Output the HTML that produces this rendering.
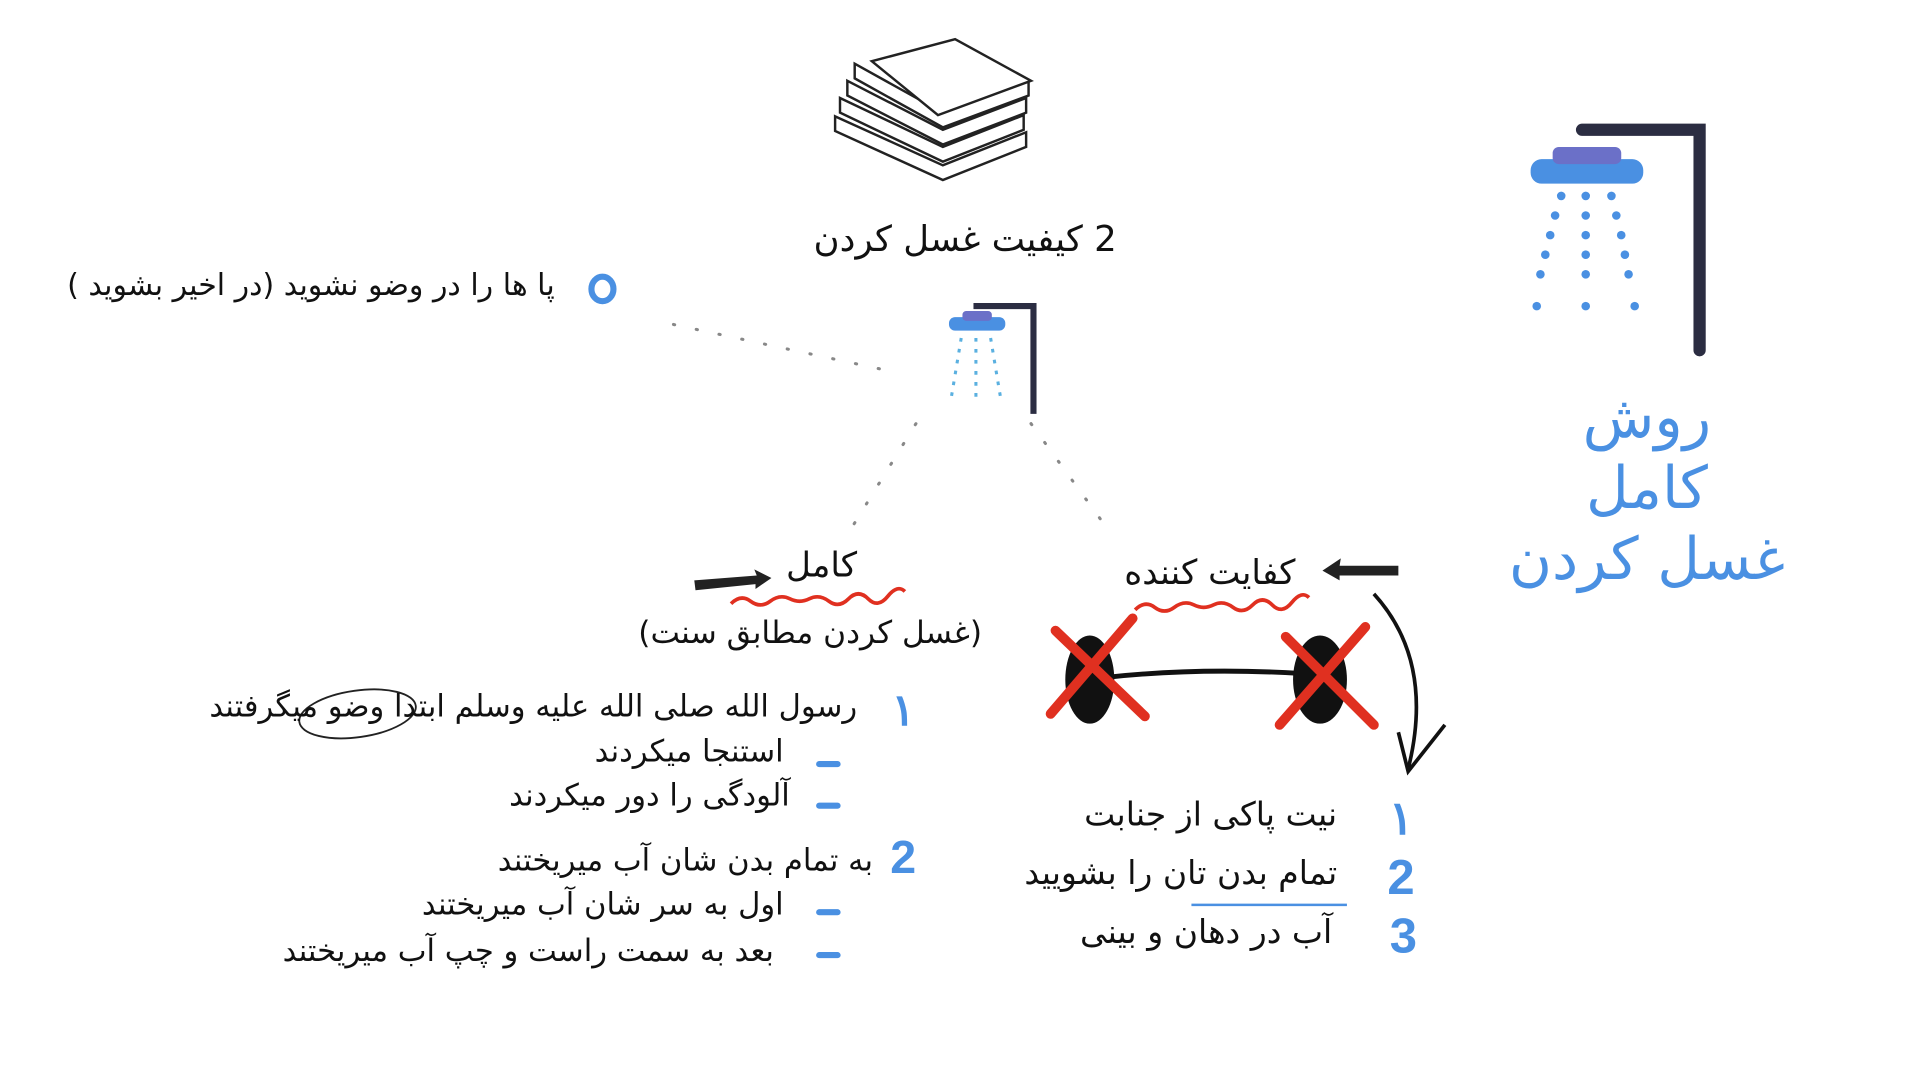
<!DOCTYPE html>
<html><head><meta charset="utf-8">
<style>
html,body{margin:0;padding:0;background:#fff;width:1920px;height:1080px;overflow:hidden}
#w{position:absolute;left:0;top:0;width:1568px;height:882px;transform:scale(1.22449);transform-origin:0 0}
.t{position:absolute;direction:rtl;white-space:nowrap;font-family:"DejaVu Sans","Liberation Sans",sans-serif;color:#111;line-height:1}
.b{position:absolute;font-family:"Liberation Sans",sans-serif;color:#4a90e2;font-weight:bold;line-height:1}
svg{position:absolute;left:0;top:0}
</style></head><body><div id="w">
<svg width="1568" height="882" viewBox="0 0 1568 882">
 <g fill="#fff" stroke="#222" stroke-width="2">
  <path d="M682 95 L770 135 L838 108 L838 120 L770 147 L682 107 Z"/>
  <path d="M686 80 L770 120 L836 94 L836 106 L770 132 L686 92 Z"/>
  <path d="M692 66 L770 106 L838 80 L838 92 L770 118 L692 78 Z"/>
  <path d="M698 52 L770 92 L840 66 L840 78 L770 104 L698 64 Z"/>
  <path d="M712 50 L780 32 L842 66 L766 94 Z"/>
 </g>
 <g stroke="#888" stroke-width="2.5" stroke-dasharray="1 18" stroke-linecap="round" fill="none">
  <path d="M550 265 L722 302"/>
  <path d="M748 346 L690 440"/>
  <path d="M842 346 L906 434"/>
 </g>
 <path d="M795 250 H844 V338" stroke="#2b2d42" stroke-width="5" fill="none"/>
 <rect x="775" y="259" width="46" height="11" rx="5" fill="#4a90e2"/>
 <rect x="786" y="254" width="24" height="8" rx="3" fill="#6b70c8"/>
 <g stroke="#5ab0e0" stroke-width="2.5" stroke-dasharray="3 6" fill="none">
  <path d="M785 276 L777 324"/><path d="M797 276 L797 324"/><path d="M809 276 L817 324"/>
 </g>
 <path d="M1292 106 H1388 V286" stroke="#2b2d42" stroke-width="10" fill="none" stroke-linecap="round"/>
 <rect x="1250" y="130" width="92" height="20" rx="9" fill="#4a90e2"/>
 <rect x="1268" y="120" width="56" height="14" rx="5" fill="#6b70c8"/>
 <g fill="#4a90e2">
  <circle cx="1275" cy="160" r="3.5"/><circle cx="1295" cy="160" r="3.5"/><circle cx="1316" cy="160" r="3.5"/>
  <circle cx="1270" cy="176" r="3.5"/><circle cx="1295" cy="176" r="3.5"/><circle cx="1320" cy="176" r="3.5"/>
  <circle cx="1266" cy="192" r="3.5"/><circle cx="1295" cy="192" r="3.5"/><circle cx="1324" cy="192" r="3.5"/>
  <circle cx="1262" cy="208" r="3.5"/><circle cx="1295" cy="208" r="3.5"/><circle cx="1327" cy="208" r="3.5"/>
  <circle cx="1258" cy="224" r="3.5"/><circle cx="1295" cy="224" r="3.5"/><circle cx="1330" cy="224" r="3.5"/>
  <circle cx="1255" cy="250" r="3.5"/><circle cx="1295" cy="250" r="3.5"/><circle cx="1335" cy="250" r="3.5"/>
 </g>
 <path d="M567 474 L618 470 L616 465 L630 472 L617 481 L617 477 L568 482 Z" fill="#222"/>
 <path d="M1142 462 L1094 462 L1095 456 L1080 466 L1094 474 L1094 470 L1142 470 Z" fill="#222"/>
 <path d="M597 493 q8 -8 16 -2 t16 0 t16 -2 t16 0 t16 2 t16 -2 t16 0 t16 -2 t14 -4" stroke="#e03020" stroke-width="3" fill="none"/>
 <path d="M927 498 q8 -8 16 -2 t16 0 t16 -2 t16 0 t16 2 t16 -2 t16 0 t16 -2 t14 -4" stroke="#e03020" stroke-width="3" fill="none"/>
 <path d="M905 553 Q980 545 1062 550" stroke="#111" stroke-width="4" fill="none"/>
 <ellipse cx="890" cy="555" rx="20" ry="36" fill="#111"/>
 <ellipse cx="1078" cy="555" rx="22" ry="36" fill="#111"/>
 <g stroke="#e03020" stroke-width="8" stroke-linecap="round">
  <path d="M862 515 L935 585"/><path d="M925 505 L858 583"/>
  <path d="M1050 520 L1122 592"/><path d="M1115 512 L1045 592"/>
 </g>
 <path d="M1122 485 Q1172 540 1150 628" stroke="#111" stroke-width="3" fill="none"/>
 <path d="M1142 598 L1150 630 L1180 592" stroke="#111" stroke-width="3" fill="none"/>
 <ellipse cx="292" cy="583" rx="48" ry="19" stroke="#222" stroke-width="1.5" fill="none" transform="rotate(-8 292 583)"/>
 <path d="M973 739 H1100" stroke="#4a90e2" stroke-width="2"/>
 <g stroke="#4a90e2" stroke-width="5" stroke-linecap="round">
  <path d="M669 624 H684"/><path d="M669 658 H684"/><path d="M669 745 H684"/><path d="M669 780 H684"/>
 </g>
 <ellipse cx="492" cy="236" rx="9" ry="10" stroke="#4a90e2" stroke-width="5" fill="none"/>
</svg>

<div class="t" style="right:656px;top:181px;font-size:29px">2 کیفیت غسل کردن</div>
<div class="t" style="right:1115px;top:221px;font-size:24.5px">پا ها را در وضو نشوید (در اخیر بشوید )</div>

<div class="t" style="left:1230px;width:230px;text-align:center;direction:rtl;top:312px;font-size:48px;color:#4a90e2;line-height:58px">روش<br>کامل<br>غسل کردن</div>

<div class="t" style="right:868px;top:448px;font-size:28px">کامل</div>
<div class="t" style="right:766px;top:505px;font-size:25.5px">(غسل کردن مطابق سنت)</div>
<div class="t" style="right:510px;top:454px;font-size:28px">کفایت کننده</div>

<div class="b" style="left:728px;top:562px;font-size:36px">۱</div>
<div class="t" style="right:868px;top:564px;font-size:25px">رسول الله صلی الله علیه وسلم ابتدا وضو میگرفتند</div>
<div class="t" style="right:928px;top:601px;font-size:25px">استنجا میکردند</div>
<div class="t" style="right:923px;top:637px;font-size:25px">آلودگی را دور میکردند</div>
<div class="b" style="left:727px;top:682px;font-size:38px">2</div>
<div class="t" style="right:855px;top:690px;font-size:25px">به تمام بدن شان آب میریختند</div>
<div class="t" style="right:928px;top:726px;font-size:25px">اول به سر شان آب میریختند</div>
<div class="t" style="right:936px;top:764px;font-size:25px">بعد به سمت راست و چپ آب میریختند</div>

<div class="b" style="left:1134px;top:650px;font-size:38px">۱</div>
<div class="t" style="right:476px;top:652px;font-size:27px">نیت پاکی از جنابت</div>
<div class="b" style="left:1133px;top:697px;font-size:40px">2</div>
<div class="t" style="right:476px;top:700px;font-size:27px">تمام بدن تان را بشویید</div>
<div class="b" style="left:1135px;top:745px;font-size:40px">3</div>
<div class="t" style="right:480px;top:748px;font-size:27px">آب در دهان و بینی</div>
</div></body></html>
